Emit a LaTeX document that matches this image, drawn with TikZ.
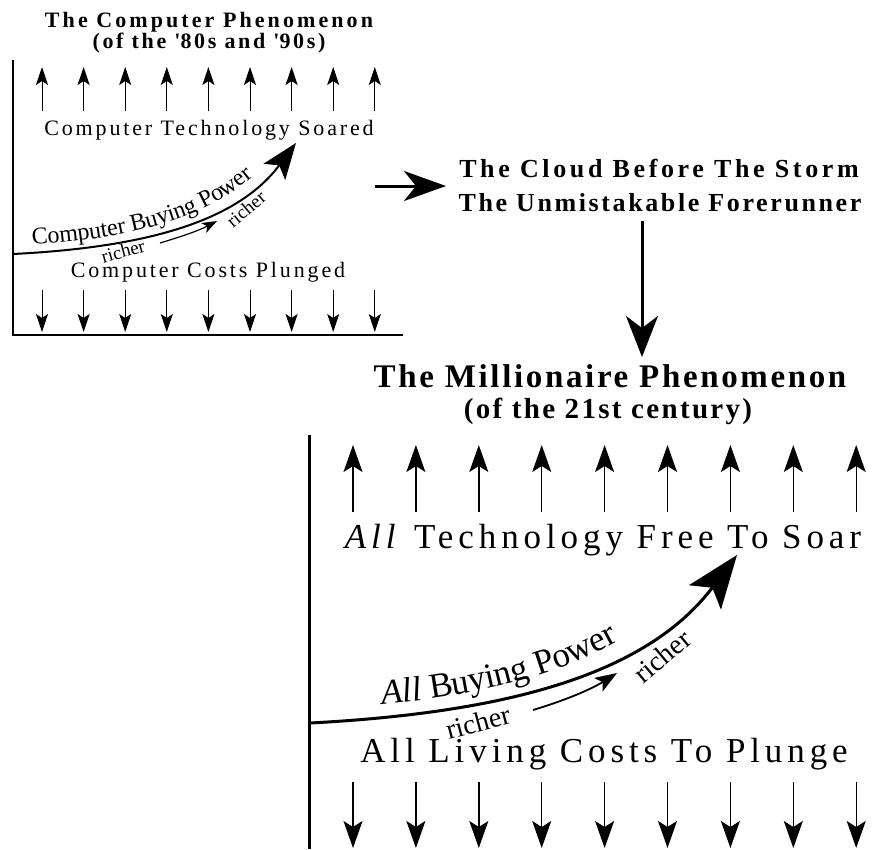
\documentclass[tikz,border=0pt]{standalone}
\usepackage{fontspec}
\setmainfont{Liberation Serif}
\newfontfamily\fTitleOne[LetterSpace=14]{Liberation Serif}
\newfontfamily\fSubOne[LetterSpace=12]{Liberation Serif}
\newfontfamily\fBodyOne[LetterSpace=13]{Liberation Serif}
\newfontfamily\fBig[LetterSpace=8]{Liberation Serif}
\newfontfamily\fMidA[LetterSpace=14]{Liberation Serif}
\newfontfamily\fMidB[LetterSpace=10]{Liberation Serif}
\newfontfamily\fBodyTwo[LetterSpace=14]{Liberation Serif}
\newcommand\labOne{\fontsize{24}{26}\selectfont}
\newcommand\labTwo{\fontsize{35}{38}\selectfont}
\usetikzlibrary{arrows.meta,decorations.text}
\begin{document}
\begin{tikzpicture}[x=1pt,y=1pt]
\tikzset{
  axisA/.style={line width=2.2pt},
  axisB/.style={line width=3pt},
  upA/.style={line width=1pt, -{Stealth[length=18pt,width=12pt,inset=4pt]}},
  upB/.style={line width=1.4pt, -{Stealth[length=27pt,width=19pt,inset=6pt]}},
  curveA/.style={line width=2pt, -{Stealth[length=36pt,width=27pt,inset=8pt]}},
  curveB/.style={line width=3pt, -{Stealth[length=53pt,width=40pt,inset=12pt]}},
  smallA/.style={line width=1.2pt, -{Stealth[length=15pt,width=11pt,inset=4pt]}},
  smallB/.style={line width=1.8pt, -{Stealth[length=22pt,width=16pt,inset=5pt]}},
  flowH/.style={line width=3pt, -{Stealth[length=42pt,width=30pt,inset=12pt]}},
  flowV/.style={line width=3pt, -{Stealth[length=41pt,width=32pt,inset=12pt]}},
  lbl/.style={inner sep=0pt, anchor=base},
  rlbl/.style={inner sep=0pt},
}
\useasboundingbox (0,0) rectangle (891,-849);

% ---------- Panel 1 ----------
\node[lbl, font=\fTitleOne\bfseries\fontsize{22}{24}\selectfont] (ct1) at (209,-27) {The Computer Phenomenon};
\node[lbl, font=\fSubOne\bfseries\fontsize{22}{24}\selectfont] (ct2) at (209,-48) {(of the \textquotesingle 80s and \textquotesingle 90s)};

\coordinate (a1top) at (13,-60);
\coordinate (a1corner) at (13,-335);
\coordinate (a1end) at (403,-335);
\draw[axisA] (a1top) -- (a1corner) -- (a1end);

\foreach \i in {0,...,8}{
  \pgfmathsetmacro\xx{42+41.6*\i}
  \coordinate (pu\i) at (\xx,-111);
  \coordinate (pt\i) at (\xx,-67);
  \draw[upA] (pu\i) -- (pt\i);
  \coordinate (pd\i) at (\xx,-290);
  \coordinate (pb\i) at (\xx,-332);
  \draw[upA] (pd\i) -- (pb\i);
}

\node[lbl, font=\fBodyOne\fontsize{22}{24}\selectfont] (soared) at (209,-135) {Computer Technology Soared};
\node[lbl, font=\fBodyOne\fontsize{22}{24}\selectfont] (plunged) at (208,-277) {Computer Costs Plunged};

\coordinate (c1s) at (13,-254);
\coordinate (c1e) at (296,-143);
\draw[curveA] (c1s) .. controls (153,-247) and (239,-219) .. (c1e);
\path[decorate, decoration={text along path, raise=8pt,
  text align={left indent=20pt},
  text={|\labOne|Computer Buying Power}}]
  (c1s) .. controls (153,-247) and (239,-219) .. (c1e);

\coordinate (s1s) at (160,-243);
\coordinate (s1e) at (217,-221);
\draw[smallA] (s1s) .. controls (180,-237) and (198,-231) .. (s1e);
\node[rlbl, rotate=15, font=\fontsize{19}{21}\selectfont] (r1a) at (123,-251) {richer};
\node[rlbl, rotate=40, font=\fontsize{19}{21}\selectfont] (r1b) at (246,-209) {richer};

% ---------- Middle ----------
\node[lbl, font=\fMidA\bfseries\fontsize{26}{28}\selectfont] (cloud1) at (659,-177) {The Cloud Before The Storm};
\node[lbl, font=\fMidB\bfseries\fontsize{26}{28}\selectfont] (cloud2) at (660,-211) {The Unmistakable Forerunner};
\coordinate (h1) at (375,-186);
\coordinate (h2) at (446,-186);
\draw[flowH] (h1) -- (h2);
\coordinate (v1) at (642,-221);
\coordinate (v2) at (642,-357);
\draw[flowV] (v1) -- (v2);

% ---------- Panel 2 ----------
\node[lbl, font=\fBig\bfseries\fontsize{33}{36}\selectfont] (mt1) at (610,-387) {The Millionaire Phenomenon};
\node[lbl, font=\fBig\bfseries\fontsize{29}{32}\selectfont] (mt2) at (608,-418) {(of the 21st century)};

\coordinate (a2top) at (309,-435);
\coordinate (a2bot) at (309,-849);
\draw[axisB] (a2top) -- (a2bot);

\foreach \i in {0,...,8}{
  \pgfmathsetmacro\xx{353+62.9*\i}
  \coordinate (qu\i) at (\xx,-512);
  \coordinate (qt\i) at (\xx,-445);
  \draw[upB] (qu\i) -- (qt\i);
  \coordinate (qd\i) at (\xx,-782);
  \coordinate (qb\i) at (\xx,-848);
  \draw[upB] (qd\i) -- (qb\i);
}

\node[lbl, font=\fBodyTwo\fontsize{35}{38}\selectfont] (soar) at (603,-548) {\textit{All} Technology Free To Soar};
\node[lbl, font=\fBodyTwo\fontsize{35}{38}\selectfont] (plunge) at (604,-762) {All Living Costs To Plunge};

\coordinate (c2s) at (310,-723);
\coordinate (c2e) at (737,-555);
\draw[curveB] (c2s) .. controls (520,-712) and (650,-670) .. (c2e);
\path[decorate, decoration={text along path, raise=13pt,
  text align={left indent=74pt},
  text={|\labTwo\itshape|All |\labTwo|Buying Power}}]
  (c2s) .. controls (520,-712) and (650,-670) .. (c2e);

\coordinate (s2s) at (533,-710);
\coordinate (s2e) at (617,-673);
\draw[smallB] (s2s) .. controls (563,-701) and (590,-690) .. (s2e);
\node[rlbl, rotate=15, font=\fontsize{28}{30}\selectfont] (r2a) at (478,-722) {richer};
\node[rlbl, rotate=40, font=\fontsize{28}{30}\selectfont] (r2b) at (662,-656) {richer};
\end{tikzpicture}
\end{document}
